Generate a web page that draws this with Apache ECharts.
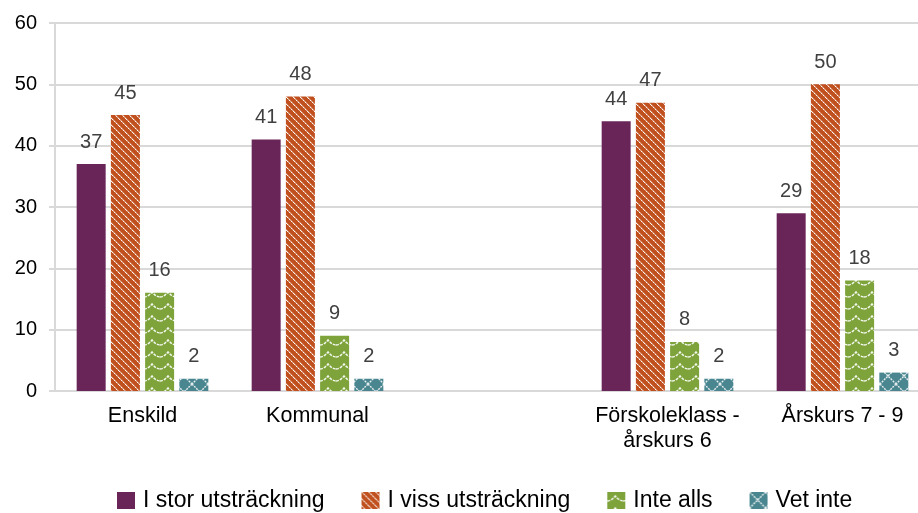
<!DOCTYPE html>
<html>
<head>
<meta charset="utf-8">
<script src="https://cdn.jsdelivr.net/npm/echarts@6/dist/echarts.min.js"></script>
<style>
	html, body { margin: 0; padding: 0; background: #fff; overflow: hidden; }
	/*diagrammet går lite utanför högerkanten som i originalet*/
	#chart { width: 930px; height: 513px; }
</style>
</head>
<body>
<div id="chart"></div>
<script>
	/*kategorier (tom kategori ger mellanrummet)*/
	var categories = ['Enskild', 'Kommunal', '', 'Förskoleklass -\nårskurs 6', 'Årskurs 7 - 9'];
	var seriesNames = ['I stor utsträckning', 'I viss utsträckning', 'Inte alls', 'Vet inte'];
	var storData = [37, 41, '-', 44, 29];
	var vissData = [45, 48, '-', 47, 50];
	var inteData = [16, 9, '-', 8, 18];
	var vetData = [2, 2, '-', 2, 3];
	var yTicks = [0, 10, 20, 30, 40, 50, 60];

	/*mönster för staplarna*/
	function makeTile(w, h, bg, draw) {
		var c = document.createElement('canvas');
		c.width = w;
		c.height = h;
		var ctx = c.getContext('2d');
		ctx.fillStyle = bg;
		ctx.fillRect(0, 0, w, h);
		draw(ctx);
		return { image: c, repeat: 'repeat' };
	}

	var purple = '#6a2558';
	var orange = makeTile(7, 7, '#c0501e', function (ctx) {
		for (var i = 0; i < 7; i++) {
			ctx.fillStyle = i % 2 ? 'rgba(255,255,255,0.55)' : 'rgba(255,255,255,0.95)';
			ctx.fillRect(i, i, 1, 1);
			ctx.fillStyle = 'rgba(255,255,255,0.3)';
			ctx.fillRect((i + 1) % 7, i, 1, 1);
		}
	});
	var green = makeTile(16, 12, '#7da33a', function (ctx) {
		ctx.strokeStyle = 'rgba(255,255,255,0.9)';
		ctx.lineWidth = 1.5;
		ctx.setLineDash([3, 1]);
		ctx.beginPath();
		ctx.moveTo(0, 9);
		ctx.quadraticCurveTo(4, 9, 8, 4);
		ctx.quadraticCurveTo(12, 9, 16, 9);
		ctx.stroke();
	});
	var teal = makeTile(16, 16, '#4a8690', function (ctx) {
		ctx.strokeStyle = 'rgba(255,255,255,0.85)';
		ctx.lineWidth = 1.4;
		ctx.setLineDash([2, 1]);
		ctx.beginPath();
		ctx.moveTo(0, 0);
		ctx.lineTo(16, 16);
		ctx.moveTo(16, 0);
		ctx.lineTo(0, 16);
		ctx.stroke();
	});

	var colors = [purple, orange, green, teal];
	var values = [storData, vissData, inteData, vetData];

	var seriesData = [];
	seriesNames.forEach(function (name, i) {
		seriesData.push({
			name: name,
			type: 'bar',
			barWidth: 29,
			barGap: '18%',
			data: values[i],
			itemStyle: { color: colors[i] },
			label: {
				show: true,
				position: 'top',
				distance: 12,
				color: '#404040',
				fontSize: 20,
				fontFamily: 'Liberation Sans'
			}
		});
	});

	var chart = echarts.init(document.getElementById('chart'));
	chart.setOption({
		animation: false,
		textStyle: { fontFamily: 'Liberation Sans' },
		grid: {
			left: 55,
			right: 0,
			top: 23,
			bottom: 122
		},
		legend: {
			data: seriesNames,
			left: 117,
			top: 489,
			padding: 0,
			icon: 'rect',
			itemWidth: 18,
			itemHeight: 17,
			itemGap: 37,
			textStyle: { fontSize: 23, color: '#000', padding: [0, 0, 0, 3] }
		},
		xAxis: {
			type: 'category',
			data: categories,
			axisTick: { show: false },
			axisLine: { lineStyle: { color: '#d9d9d9', width: 2 } },
			axisLabel: {
				color: '#000',
				fontSize: 21.5,
				lineHeight: 25,
				margin: 13,
				interval: 0
			}
		},
		yAxis: {
			type: 'value',
			min: yTicks[0],
			max: yTicks[yTicks.length - 1],
			interval: 10,
			axisLine: { show: true, lineStyle: { color: '#d9d9d9', width: 2 } },
			axisTick: { show: true, length: 6, lineStyle: { color: '#d9d9d9', width: 2 } },
			splitLine: { lineStyle: { color: '#d9d9d9', width: 2 } },
			axisLabel: { color: '#000', fontSize: 20, margin: 18 }
		},
		series: seriesData
	});
</script>
</body>
</html>
